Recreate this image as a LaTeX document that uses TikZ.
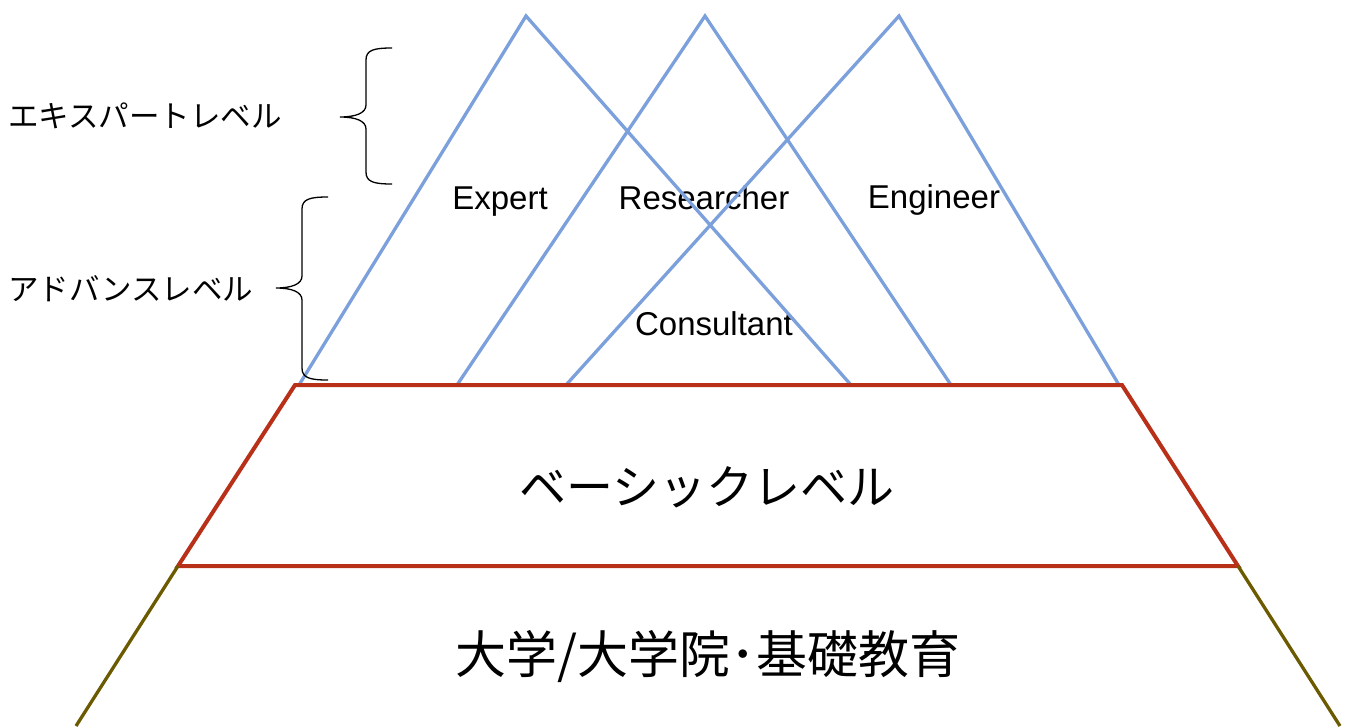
\documentclass[tikz,border=0pt]{standalone}
\usepackage{fontspec}
\setmainfont{Liberation Sans}
\newfontfamily\jp{Noto Sans CJK JP}
\definecolor{tri}{HTML}{7BA0DC}
\definecolor{base}{HTML}{B93019}
\definecolor{olive}{HTML}{6B5A00}
\tikzset{
  trifill/.style={draw=tri,line width=3.3pt,line join=miter},
  redline/.style={draw=base,line width=4pt,line join=miter},
  oliveline/.style={draw=olive,line width=3.3pt},
  bracepath/.style={draw=black,line width=1.3pt},
  rolelabel/.style={inner sep=0pt,anchor=base,font=\fontsize{33}{36}\selectfont},
  levellabel/.style={inner sep=0pt,anchor=west,font=\jp\fontsize{30.5}{34}\selectfont},
  biglabel/.style={inner sep=0pt,font=\jp\fontsize{47}{52}\selectfont}
}
\begin{document}
\begin{tikzpicture}[x=1pt,y=-1pt]
\useasboundingbox (0,0) rectangle (1352,726);
% texts (behind lines)
\node[levellabel] (expertlv) at (8,116) {エキスパートレベル};
\node[levellabel] (advlv) at (8,289) {アドバンスレベル};
\node[rolelabel] (expert) at (500,209) {Expert};
\node[rolelabel] (researcher) at (704,209) {Researcher};
\node[rolelabel] (engineer) at (934,208) {Engineer};
\node[rolelabel] (consultant) at (714,335) {Consultant};
\node[biglabel] (basic) at (707,487) {ベーシックレベル};
\node[biglabel,font=\jp\fontsize{51}{56}\selectfont] (univ) at (708,657) {大学/大学院･基礎教育};
% triangles
\draw[trifill] (299,385) -- (526,16) -- (851,385) -- cycle;
\draw[trifill] (457,385) -- (705,16) -- (951,385) -- cycle;
\draw[trifill] (566,385) -- (899,16) -- (1119,385) -- cycle;
% basic level trapezoid
\draw[redline] (295,385) -- (1122,385) -- (1238,566) -- (178,566) -- cycle;
% bottom lines
\draw[oliveline] (178,566) -- (76,726);
\draw[oliveline] (1238,566) -- (1340,726);
% braces
\draw[bracepath] (392,48) .. controls (374,48) and (366,50) .. (366,60) -- (366,105)
  .. controls (366,113) and (356,117) .. (340,117)
  .. controls (356,117) and (366,121) .. (366,129) -- (366,172)
  .. controls (366,182) and (374,184) .. (392,184);
\draw[bracepath] (328,197) .. controls (310,197) and (302,199) .. (302,209) -- (302,276)
  .. controls (302,284) and (292,288) .. (276,288)
  .. controls (292,288) and (302,292) .. (302,300) -- (302,368)
  .. controls (302,378) and (310,380) .. (328,380);
\end{tikzpicture}
\end{document}
